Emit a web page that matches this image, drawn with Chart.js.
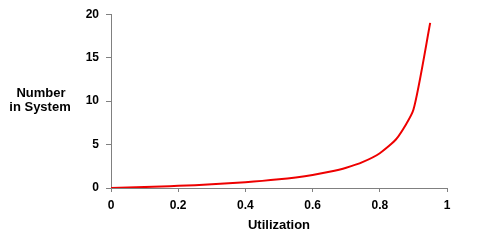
<!DOCTYPE html>
<html><head><meta charset="utf-8">
<script src="https://cdn.jsdelivr.net/npm/chart.js@4/dist/chart.umd.min.js"></script>
<style>html,body{margin:0;padding:0;background:#fff}#w{width:485px;height:240px}</style>
</head><body><div id="w"><canvas id="c"></canvas></div>
<script>
const utilization = [0, 0.05, 0.1, 0.15, 0.2, 0.25, 0.3, 0.35, 0.4, 0.45, 0.5, 0.55, 0.6, 0.65, 0.7, 0.75, 0.8, 0.85, 0.9, 0.95];
const numberInSystem = [0, 0.05, 0.11, 0.18, 0.25, 0.33, 0.43, 0.54, 0.67, 0.82, 1.0, 1.22, 1.5, 1.86, 2.33, 3.0, 4.0, 5.67, 9.0, 19.0];
const xTickLabels = {0: "0", 0.2: "0.2", 0.4: "0.4", 0.6: "0.6", 0.8: "0.8", 1: "1"};
const yTitleLines = ["Number", "in System"];
const xTitle = "Utilization";

const FONT = "'Liberation Sans', Arial, sans-serif";
const yTitlePlugin = {
  id: 'yTitle',
  afterDraw(chart) {
    const ctx = chart.ctx;
    ctx.save();
    ctx.font = "bold 13px " + FONT;
    ctx.fillStyle = "#000";
    ctx.textAlign = "center";
    ctx.textBaseline = "middle";
    ctx.fillText(yTitleLines[0], 41, 93);
    ctx.fillText(yTitleLines[1], 40, 107);
    ctx.restore();
  }
};

new Chart(document.getElementById('c'), {
  type: 'line',
  data: {
    datasets: [{
      data: utilization.map((x, i) => ({x: x, y: numberInSystem[i]})),
      borderColor: '#ee0000',
      borderWidth: 2,
      pointRadius: 0,
      tension: 0.2,
      fill: false
    }]
  },
  options: {
    responsive: true,
    maintainAspectRatio: false,
    animation: false,
    devicePixelRatio: 1,
    layout: {padding: {left: 0, right: 38, top: 8, bottom: 0}},
    plugins: {legend: {display: false}, tooltip: {enabled: false}},
    scales: {
      x: {
        type: 'linear', min: 0, max: 1,
        ticks: {stepSize: 0.2, color: '#000', font: {family: FONT, size: 12, weight: 'bold'}, padding: 6, maxRotation: 0,
          callback: (v) => xTickLabels[Math.round(v * 10) / 10] ?? String(v)},
        grid: {drawOnChartArea: false, drawTicks: true, tickLength: 4, color: '#808080'},
        border: {display: true, color: '#808080', width: 1},
        title: {display: true, text: xTitle, color: '#000', font: {family: FONT, size: 13, weight: 'bold'}, padding: {top: 0, bottom: 7}},
        afterFit(scale) { scale.height = 52; }
      },
      y: {
        min: 0, max: 20,
        ticks: {stepSize: 5, color: '#000', font: {family: FONT, size: 12, weight: 'bold'}, padding: 7},
        grid: {drawOnChartArea: false, drawTicks: true, tickLength: 5, color: '#808080'},
        border: {display: true, color: '#808080', width: 1},
        afterFit(scale) { scale.width = 111; }
      }
    }
  },
  plugins: [yTitlePlugin]
});
</script>
</body></html>
